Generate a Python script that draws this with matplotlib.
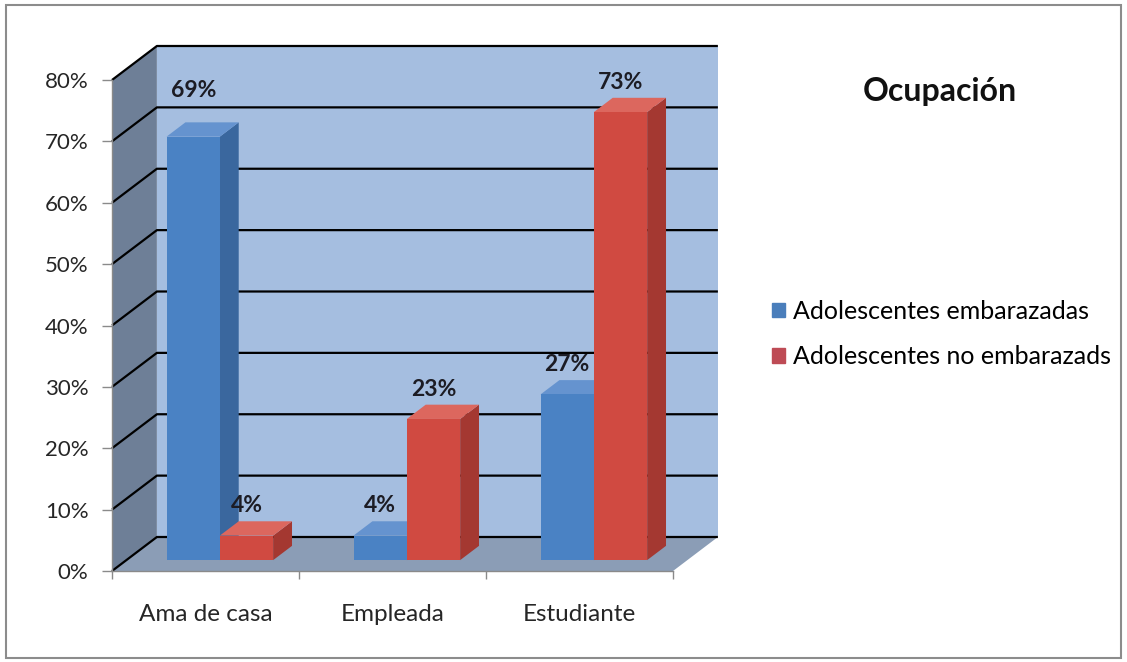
import matplotlib.pyplot as plt
from matplotlib.patches import Polygon, Rectangle, Patch

categories = ['Ama de casa', 'Empleada', 'Estudiante']
series_names = ['Adolescentes embarazadas', 'Adolescentes no embarazads']
embarazadas = [69, 4, 27]
no_embarazadas = [4, 23, 73]
y_ticks = [0, 10, 20, 30, 40, 50, 60, 70, 80]

plt.rcParams['font.family'] = ['Lato', 'DejaVu Sans']

# oblique 3d look: shift of the back plane, in data units
DX = 0.24
DY = 5.54
BAR_D0, BAR_D1 = 0.32, 0.74
BAR_W = 0.285
GAP = 0.215

colors = {
    'blue': ('#4a82c4', '#3a679e', '#6593cf'),
    'red': ('#d04a41', '#a43831', '#dc675e'),
}
label_raise = {(0, 0): 2.6}

W, H = 1127, 662
fig = plt.figure(figsize=(W / 100, H / 100), dpi=100)
ax = fig.add_axes([112 / W, 91 / H, 561 / W, 491 / H])
ax.set_xlim(0, 3)
ax.set_ylim(0, y_ticks[-1])
ax.set_facecolor('none')
ymax = y_ticks[-1]
n = len(categories)

# walls and floor
ax.add_patch(Polygon([(0, 0), (0, ymax), (DX, ymax + DY), (DX, DY)],
                     closed=True, fc='#6e7f97', ec='none', zorder=1, clip_on=False))
ax.add_patch(Polygon([(DX, DY), (DX, ymax + DY), (n + DX, ymax + DY), (n + DX, DY)],
                     closed=True, fc='#a5bee0', ec='none', zorder=1, clip_on=False))
ax.add_patch(Polygon([(0, 0), (n, 0), (n + DX, DY), (DX, DY)],
                     closed=True, fc='#8b9db6', ec='none', zorder=1, clip_on=False))

for v in y_ticks:
    ax.plot([0, DX, n + DX], [v, v + DY, v + DY], color='black', lw=1.6,
            zorder=2, clip_on=False, solid_capstyle='butt')


def draw_bar(x0, h, cols, z):
    front, side, top = cols
    fx = x0 + DX * BAR_D0
    fy = DY * BAR_D0
    ddx = DX * (BAR_D1 - BAR_D0)
    ddy = DY * (BAR_D1 - BAR_D0)
    ax.add_patch(Polygon([(fx + BAR_W, fy), (fx + BAR_W, fy + h),
                          (fx + BAR_W + ddx, fy + h + ddy), (fx + BAR_W + ddx, fy + ddy)],
                         closed=True, fc=side, ec='none', zorder=z, clip_on=False))
    ax.add_patch(Polygon([(fx, fy + h), (fx + BAR_W, fy + h),
                          (fx + BAR_W + ddx, fy + h + ddy), (fx + ddx, fy + h + ddy)],
                         closed=True, fc=top, ec='none', zorder=z, clip_on=False))
    ax.bar(fx, h, width=BAR_W, bottom=fy, align='edge', color=front,
           zorder=z + 0.5, clip_on=False)
    return fx + BAR_W / 2, fy + h + ddy


z = 3
for i in range(n):
    for s, (vals, key) in enumerate([(embarazadas, 'blue'), (no_embarazadas, 'red')]):
        x0 = i + GAP + s * BAR_W
        cx, ytop = draw_bar(x0, vals[i], colors[key], z)
        z += 1
        ax.text(cx, ytop + 0.8 + label_raise.get((s, i), 0), f'{vals[i]}%',
                ha='center', va='bottom', fontsize=16.5, fontweight='bold',
                color='#1c1c24', zorder=20, clip_on=False)

# axes
for sp in ['top', 'right']:
    ax.spines[sp].set_visible(False)
for sp in ['left', 'bottom']:
    ax.spines[sp].set_color('#8a8a8a')
    ax.spines[sp].set_linewidth(1.0)
    ax.spines[sp].set_zorder(30)

ax.set_yticks(y_ticks, [f'{v}%' for v in y_ticks])
ax.tick_params(axis='y', direction='out', length=7, width=1, color='#8a8a8a',
               pad=10, labelsize=16, labelcolor='#262626')
ax.set_xticks(range(n + 1), [''] * (n + 1))
ax.set_xticks([i + 0.5 for i in range(n)], categories, minor=True)
ax.tick_params(axis='x', which='major', direction='out', length=6, width=1,
               color='#8a8a8a')
ax.tick_params(axis='x', which='minor', length=0, pad=24, labelsize=17.5,
               labelcolor='#262626')

# legend and title on the right
handles = [Patch(color='#4a7ebb', label=series_names[0]),
           Patch(color='#be4b55', label=series_names[1])]
fig.legend(handles=handles, loc='center left', bbox_to_anchor=(772 / W, 1 - 334 / H),
           frameon=False, fontsize=18, handlelength=0.52, handleheight=0.52,
           handletextpad=0.32, labelspacing=0.9, borderpad=0, borderaxespad=0)
fig.text(940 / W, 1 - 92 / H, 'Ocupación', ha='center', va='center',
         fontsize=23, fontweight='bold', color='#111111')

fig.patches.append(Rectangle((6 / W, 4 / H), (1121 - 6) / W, (657 - 4) / H,
                             transform=fig.transFigure, fill=False,
                             edgecolor='#8c8c8c', lw=1.5))

fig.savefig('out.png', dpi=100)
